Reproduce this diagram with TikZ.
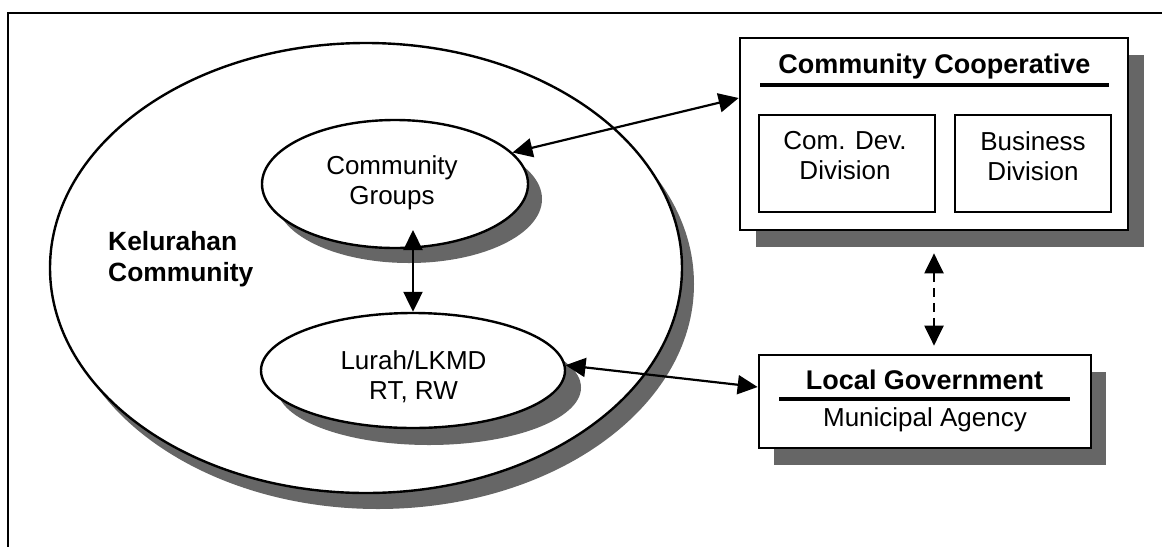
\documentclass[tikz,border=0pt]{standalone}
\usepackage{fontspec}
\setmainfont{Liberation Sans}
\usetikzlibrary{arrows.meta,shadows,shapes.geometric}

\begin{document}
\begin{tikzpicture}[x=1pt,y=-1pt,
  oval/.style={ellipse, draw, line width=2.4pt, fill=white, inner sep=0pt},
  card/.style={rectangle, draw, line width=2.7pt, fill=white, inner sep=0pt},
  cast/.style 2 args={drop shadow={shadow xshift=#1pt, shadow yshift=-#2pt,
      fill=black!60, opacity=1}},
  biarrow/.style={{Triangle[length=20pt,width=19pt]}-{Triangle[length=20pt,width=19pt]},
      line width=2.2pt},
  plain/.style={font=\fontsize{26}{30}\selectfont, align=center, inner sep=0pt},
  heading/.style={font=\bfseries\fontsize{27}{31}\selectfont, inner sep=0pt},
  rule/.style={line width=3.2pt}]

\useasboundingbox (0,0) rectangle (1162,547);

% outer frame (top and left edges)
\draw[line width=2.7pt] (1162,13) -- (8,13) -- (8,547);

% community ellipses
\node[oval, minimum width=632pt, minimum height=450pt, cast={12}{16}] (kel) at (366,268) {};
\node[oval, minimum width=266pt, minimum height=128pt, cast={14}{15}] (cg) at (395,184) {};
\node[oval, minimum width=304pt, minimum height=115pt, cast={16}{17}] (lurah) at (413,370.5) {};

% community cooperative
\node[card, minimum width=388pt, minimum height=192pt, cast={16}{17}] (cc) at (934,134) {};
\node[card, line width=2.4pt, minimum width=176pt, minimum height=97pt] (comdev) at (847,163.5) {};
\node[card, line width=2.4pt, minimum width=156pt, minimum height=97pt] (business) at (1033,163.5) {};

% local government
\node[card, minimum width=332pt, minimum height=93pt, cast={15}{17}] (lg) at (925,401.5) {};

% texts
\node[plain, font=\bfseries\fontsize{26.4}{31}\selectfont, align=left, anchor=west] (keltext) at (108,258.8) {Kelurahan\\Community};
\node[plain] (cgtext) at (392,182.3) {Community\\Groups};
\node[plain] (lurahtext) at (413.5,376.5) {Lurah/LKMD\\RT, RW};
\node[heading, anchor=base] (cctitle) at (934.5,73) {Community Cooperative};
\draw[rule] (760,85) -- (1109,85);
\node[plain] (comdevtext) at (845,156) {Com. Dev.\\Division};
\node[plain] (businesstext) at (1033,156) {Business\\Division};
\node[heading, anchor=base] (lgtitle) at (924.5,389) {Local Government};
\draw[rule] (779,399) -- (1070,399);
\node[plain, anchor=base] (lgsub) at (925,426) {Municipal Agency};

% connectors
\coordinate (cgdrop) at (413,230);
\draw[biarrow] (cg.15) -- ([yshift=36pt]cc.west);
\draw[biarrow] (cgdrop) -- (lurah.north);
\draw[biarrow] (lurah.2) -- ([yshift=14.5pt]lg.west);
\draw[biarrow, dash pattern=on 9pt off 6pt, shorten <=22pt, shorten >=8pt]
  (cc.south) -- (cc.south |- lg.north);

\end{tikzpicture}
\end{document}
